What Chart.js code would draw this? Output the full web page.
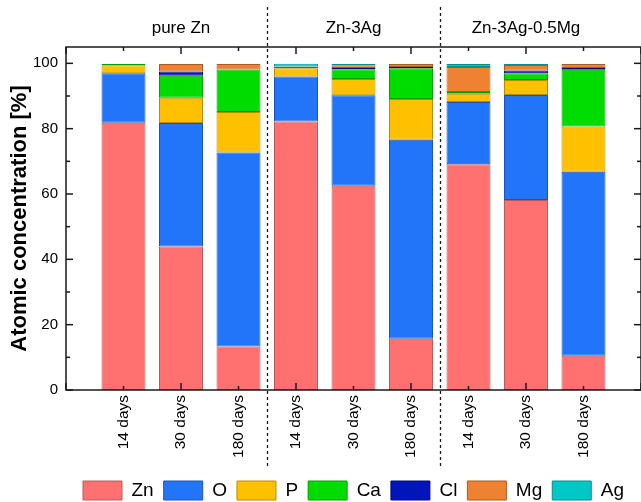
<!DOCTYPE html>
<html>
<head>
<meta charset="utf-8">
<script src="https://cdn.jsdelivr.net/npm/chart.js@4/dist/chart.umd.min.js"></script>
<style>
  html, body { margin: 0; padding: 0; background: #fff; }
  #wrap { width: 641px; height: 502px; }
</style>
</head>
<body>
<div id="wrap"><canvas id="c" width="641" height="502"></canvas></div>
<script>
// Sample groups and immersion times
const groups = ['pure Zn', 'Zn-3Ag', 'Zn-3Ag-0.5Mg'];
const days = ['14 days', '30 days', '180 days'];
const elements = ['Zn', 'O', 'P', 'Ca', 'Cl', 'Mg', 'Ag'];

// Atomic concentration [%], samples in order:
// pure Zn 14/30/180 d, Zn-3Ag 14/30/180 d, Zn-3Ag-0.5Mg 14/30/180 d
const zn = [81.8, 43.9, 13.3, 82.2, 62.5, 15.7, 69.1, 58.2, 10.5];
const o  = [15.2, 37.8, 59.4, 13.8, 27.7, 60.9, 19.1, 32.1, 56.3];
const p  = [ 2.4,  7.8, 12.4,  2.5,  5.0, 12.5,  2.5,  4.6, 13.9];
const ca = [ 0.4,  6.7, 13.0,  0.5,  3.0,  9.4,  0.5,  2.1, 17.3];
const cl = [ 0.0,  1.3,  0.0,  0.0,  0.4,  0.4,  0.0,  0.8,  0.6];
const mg = [ 0.0,  2.3,  1.7,  0.0,  0.8,  0.9,  7.7,  1.7,  1.2];
const ag = [ 0.0,  0.0,  0.0,  0.9,  0.4,  0.0,  0.9,  0.3,  0.0];

const yTicks = [0, 20, 40, 60, 80, 100];

// Styling
const fills = ['#FF7171', '#2274F8', '#FFC000', '#00DC00', '#0016BA', '#EF8231', '#00C8C9'];
const edges = ['#B85A5A', '#1A55B5', '#B88C00', '#00A000', '#000C80', '#A85C22', '#009090'];

// One empty slot on each side of the nine samples
const categories = ['', ...groups.flatMap(() => days), ''];
const series = [zn, o, p, ca, cl, mg, ag];

Chart.defaults.font.family = "'Liberation Sans', Arial, sans-serif";
Chart.defaults.color = '#000';

const decor = {
  id: 'decor',
  afterDatasetsDraw(chart) {
    const { ctx, chartArea: a, scales: { x, y } } = chart;
    const seg = (x1, y1, x2, y2) => { ctx.beginPath(); ctx.moveTo(x1, y1); ctx.lineTo(x2, y2); ctx.stroke(); };
    ctx.save();
    ctx.strokeStyle = '#1a1a1a';
    ctx.lineWidth = 1.5;
    // frame
    ctx.strokeRect(a.left, a.top, a.right - a.left, a.bottom - a.top);
    // inward tick marks on bottom and top
    for (let i = 0; i < categories.length; i++) {
      const px = x.getPixelForValue(i);
      const len = i % 2 === 0 ? 7 : 4;
      seg(px, a.bottom, px, a.bottom - len);
      seg(px, a.top, px, a.top + len);
    }
    // inward tick marks on left and right (minor halfway between labels)
    for (let k = 0; k < yTicks.length; k++) {
      const py = y.getPixelForValue(yTicks[k]);
      seg(a.left, py, a.left + 7, py);
      seg(a.right, py, a.right - 7, py);
      if (k < yTicks.length - 1) {
        const pm = y.getPixelForValue((yTicks[k] + yTicks[k + 1]) / 2);
        seg(a.left, pm, a.left + 4, pm);
        seg(a.right, pm, a.right - 4, pm);
      }
    }
    // dashed separators between groups
    ctx.setLineDash([3, 3]);
    ctx.lineWidth = 1.3;
    for (let g = 1; g < groups.length; g++) {
      const idx = g * days.length;
      const px = Math.round((x.getPixelForValue(idx) + x.getPixelForValue(idx + 1)) / 2) + 0.5;
      seg(px, 7, px, 466);
    }
    ctx.setLineDash([]);
    // group captions
    ctx.fillStyle = '#000';
    ctx.font = "17px 'Liberation Sans', Arial, sans-serif";
    ctx.textAlign = 'center';
    ctx.textBaseline = 'middle';
    groups.forEach((name, g) => {
      const first = g * days.length + 1;
      const last = first + days.length - 1;
      const cx = (x.getPixelForValue(first) + x.getPixelForValue(last)) / 2;
      ctx.fillText(name, cx, 28);
    });
    ctx.restore();
  }
};

new Chart(document.getElementById('c'), {
  type: 'bar',
  data: {
    labels: categories,
    datasets: elements.map((name, i) => ({
      label: name,
      data: [null, ...series[i], null],
      backgroundColor: fills[i],
      borderColor: edges[i],
      borderWidth: 1,
      borderSkipped: false,
      barPercentage: 0.765,
      categoryPercentage: 1
    }))
  },
  options: {
    responsive: false,
    animation: false,
    devicePixelRatio: 1,
    layout: { padding: { left: 0, right: -2, top: 47, bottom: 0 } },
    plugins: {
      legend: {
        position: 'bottom',
        fullSize: false,
        maxHeight: 31,
        labels: {
          boxWidth: 39,
          boxHeight: 19,
          padding: 10,
          color: '#000',
          font: { size: 19 }
        }
      },
      tooltip: { enabled: false }
    },
    scales: {
      x: {
        stacked: true,
        offset: false,
        grid: { display: false, drawTicks: false },
        border: { display: false },
        ticks: {
          autoSkip: false,
          minRotation: 90,
          maxRotation: 90,
          padding: 5,
          color: '#000',
          font: { size: 15.5 }
        },
        afterFit: (s) => { s.height = 81; s.paddingLeft = 0; s.paddingRight = 0; }
      },
      y: {
        stacked: true,
        min: 0,
        max: 105,
        grid: { display: false, drawTicks: false },
        border: { display: false },
        ticks: { padding: 8, color: '#000', font: { size: 15 } },
        afterBuildTicks: (s) => { s.ticks = yTicks.map(v => ({ value: v })); },
        afterFit: (s) => { s.width = 66; },
        title: {
          display: true,
          text: 'Atomic concentration [%]',
          color: '#000',
          font: { size: 22, weight: 'bold' },
          padding: { top: 7, bottom: 0 }
        }
      }
    }
  },
  plugins: [decor]
});
</script>
</body>
</html>
